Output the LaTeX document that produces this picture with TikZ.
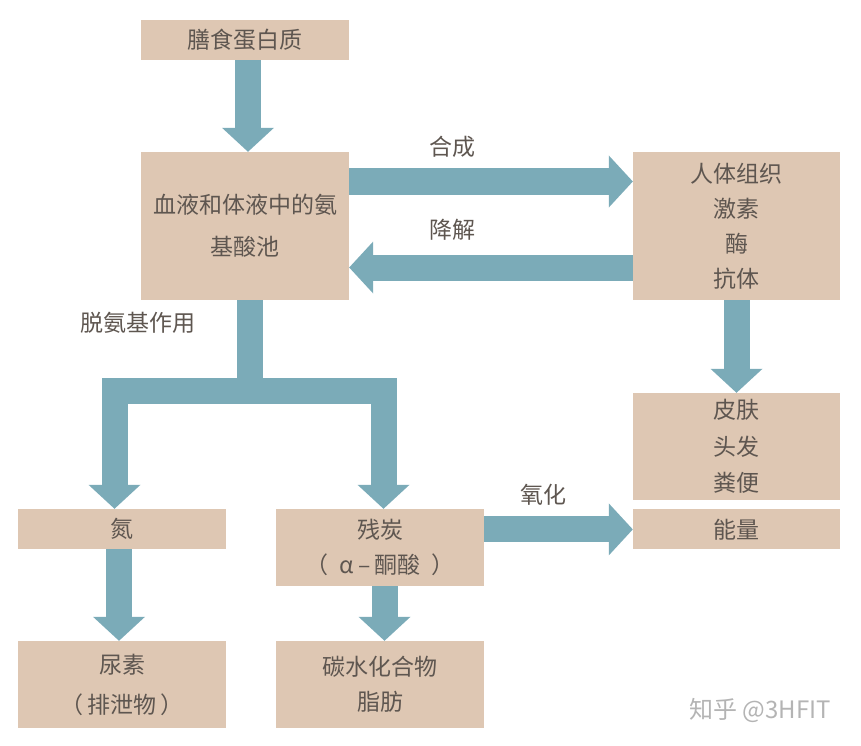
\documentclass[tikz,border=0pt]{standalone}
\usepackage{fontspec}
\setmainfont{Noto Sans CJK SC}
\usetikzlibrary{positioning, arrows.meta}
\definecolor{dpBox}{HTML}{DEC7B3}
\definecolor{dpArrow}{HTML}{7BABB8}
\definecolor{dpText}{HTML}{5E5650}
\definecolor{dpMark}{HTML}{B4B4B4}
\tikzset{
  box/.style={
    rectangle, draw=none,
    fill=dpBox,
    inner sep=0pt,
    minimum width=208pt,
    align=center, text=dpText,
    font=\fontsize{23}{35}\selectfont
  },
  flow/.style={
    draw=dpArrow, line width=26pt
  },
  flowarrow/.style={
    flow, -{Triangle[length=24pt, width=52pt, line width=0pt]}
  },
  tag/.style={text=dpText, font=\fontsize{23}{26}\selectfont}
}

\begin{document}
\begin{tikzpicture}[x=1pt, y=1pt]
      \useasboundingbox (0,0) rectangle (861,-746);
      % boxes
      \node[box, minimum height=40pt] (diet) at (245,-40) {膳食蛋白质};
      \node[box, minimum height=148pt, font=\fontsize{23}{42}\selectfont] (pool) at (245,-226) {血液和体液中的氨\\基酸池};
      \node[box, minimum width=207pt, minimum height=148pt] (tissue) at (736.5,-226) {人体组织\\激素\\酶\\抗体};
      \node[box, minimum width=207pt, minimum height=107pt, font=\fontsize{23}{36.5}\selectfont] (skin) at (736.5,-446.5) {皮肤\\头发\\粪便};
      \node[box, minimum width=207pt, minimum height=40pt, below=9pt of skin] (energy) {能量};
      \node[box, minimum height=40pt] (nitro) at (122,-529) {氮};
      \node[box, minimum height=77pt] (residue) at (380,-547.5) {残炭\\（\enspace α\,–\,酮酸\enspace）};
      \node[box, minimum height=87pt, font=\fontsize{23}{40}\selectfont] (urea) at (122,-684.5) {尿素\\（\,排泄物\,）};
      \node[box, minimum height=87pt] (carbs) at (380,-684.5) {碳水化合物\\脂肪};
      % labels
      \node[tag] (synth) at (452,-147) {合成};
      \node[tag] (degr) at (452,-230) {降解};
      \node[tag] (deam) at (138,-323) {脱氨基作用};
      \node[tag] (oxid) at (543,-495) {氧化};
      \node[text=dpMark, font=\fontsize{24}{28}\selectfont] (mark) at (760,-710) {知乎 @3HFIT};
      % arrows
      \draw[flowarrow] ([xshift=3pt]diet.south) -- ([xshift=3pt]pool.north);
      \draw[flowarrow] ([yshift=44.5pt]pool.east) -- ([yshift=44.5pt]tissue.west);
      \draw[flowarrow] ([yshift=-41.5pt]tissue.west) -- ([yshift=-41.5pt]pool.east);
      \draw[flowarrow] (tissue) -- (skin);
      \coordinate (split) at ([xshift=4.5pt, yshift=-90.5pt]pool.south);
      \draw[flow] ([xshift=4.5pt]pool.south) -- (split);
      \draw[flowarrow] (split) -| ([xshift=-7.5pt]nitro.north);
      \draw[flowarrow] (split) -| ([xshift=3.5pt]residue.north);
      \draw[flowarrow] ([xshift=-3pt]nitro.south) -- ([xshift=-3pt]urea.north);
      \draw[flowarrow] ([xshift=4.5pt]residue.south) -- ([xshift=4.5pt]carbs.north);
      \draw[flowarrow] (residue.east |- energy.west) -- (energy.west);
    \end{tikzpicture}
\end{document}
